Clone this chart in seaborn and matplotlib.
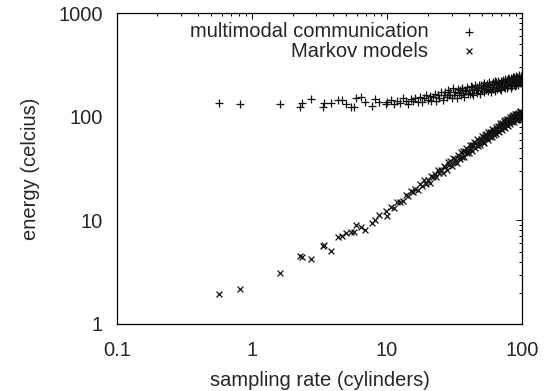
import matplotlib
matplotlib.use("Agg")
import numpy as np
import pandas as pd
import seaborn as sns
import matplotlib.pyplot as plt
from matplotlib.ticker import NullFormatter

# sampling rate values (shared by both series)
rate = [0.57, 0.82, 1.61, 2.26, 2.35, 2.72, 3.37, 3.44, 3.82, 4.33, 4.62,
        4.98, 5.42, 5.72, 5.86, 6.38, 6.9, 7.68, 8.1, 8.65, 9.8, 9.95,
        10.6, 11.3, 11.9, 12.4, 13.1, 13.8, 14.3, 14.9, 15.6, 16.2,
        16.9, 17.4, 18.1, 18.8, 19.3, 19.9, 20.6, 21.2, 21.8, 22.5,
        23.1, 23.6, 24.4, 25.0, 25.7, 26.3, 26.8, 27.5, 28.2, 28.9,
        29.4, 30.1, 30.8, 31.3, 32.0, 32.6, 33.3, 33.9, 34.5, 35.2,
        35.9, 36.4, 37.1, 37.8, 38.3, 39.0, 39.7, 40.2, 40.9, 41.6,
        42.1, 42.8, 43.5, 44.0, 44.7, 45.4, 45.9, 46.6, 47.3, 47.8,
        48.5, 49.2, 49.8, 50.4, 51.1, 51.7, 52.3, 53.0, 53.6, 54.2,
        54.9, 55.5, 56.1, 56.8, 57.4, 58.0, 58.7, 59.3, 59.9, 60.6,
        61.2, 61.8, 62.5, 63.1, 63.7, 64.4, 65.0, 65.6, 66.3, 66.9,
        67.5, 68.2, 68.8, 69.4, 70.1, 70.7, 71.3, 72.0, 72.6, 73.2,
        73.9, 74.5, 75.1, 75.8, 76.4, 77.0, 77.7, 78.3, 78.9, 79.6,
        80.2, 80.8, 81.5, 82.1, 82.7, 83.4, 84.0, 84.6, 85.3, 85.9,
        86.5, 87.2, 87.8, 88.4, 89.1, 89.7, 90.3, 91.0, 91.6, 92.2,
        92.9, 93.5, 94.1, 94.8, 95.4, 96.0, 96.7, 97.3, 97.9, 98.6,
        99.2, 99.8]

# multimodal communication energy
multimodal = [135, 132, 132, 124, 135, 148, 124, 135, 135, 145, 145,
              132, 124, 124, 152, 155, 138, 126, 148, 138, 132, 138,
              145, 133, 143, 137, 151, 142, 134, 148, 142, 152,
              140, 156, 138, 152, 161, 147, 159, 143, 155, 165,
              143, 162, 153, 173, 144, 164, 173, 156, 183, 164,
              175, 153, 189, 162, 175, 152, 185, 169, 183, 161,
              191, 170, 154, 183, 178, 193, 167, 182, 165, 199,
              171, 194, 164, 187, 205, 182, 171, 194, 180, 203,
              166, 192, 204, 181, 201, 173, 212, 187, 200, 180,
              207, 178, 196, 215, 185, 202, 173, 209, 195, 216,
              186, 207, 179, 224, 196, 217, 187, 204, 224, 195,
              213, 186, 208, 223, 182, 218, 200, 228, 195, 214,
              192, 232, 208, 218, 190, 226, 204, 239, 198, 218,
              231, 204, 221, 190, 238, 213, 230, 198, 220, 243,
              207, 240, 197, 230, 215, 249, 205, 227, 240, 215,
              239, 203, 232, 251, 212, 228, 219, 248, 223, 239,
              208, 245]

# Markov models energy
markov = [1.95, 2.18, 3.1, 4.5, 4.45, 4.2, 5.6, 5.8, 5.1, 6.9, 7.0,
          7.5, 7.7, 7.8, 9.1, 8.6, 8.0, 9.4, 10.2, 11.2, 12.3, 11.0,
          13.4, 13.2, 15.2, 14.9, 15.4, 17.7, 17.1, 19.4, 19.0, 20.3,
          19.5, 22.4, 21.7, 24.5, 22.5, 24.7, 23.2, 27.1, 26.0, 28.2,
          26.4, 30.7, 28.5, 30.7, 28.4, 33.5, 32.5, 31.0, 36.3, 34.0,
          37.1, 33.6, 40.0, 36.5, 39.2, 36.1, 42.4, 40.3, 38.9, 45.3,
          41.4, 46.3, 40.9, 46.8, 50.0, 44.5, 48.1, 44.8, 52.9, 48.8,
          53.4, 46.6, 53.0, 56.8, 50.2, 56.4, 53.2, 60.6, 52.5, 57.6,
          53.2, 61.5, 58.1, 65.4, 57.8, 63.3, 56.5, 67.3, 63.0, 68.1,
          63.0, 70.8, 60.2, 68.3, 71.7, 64.2, 71.8, 64.1, 76.6, 70.4,
          75.3, 67.2, 75.3, 70.8, 80.4, 68.3, 76.5, 81.7, 72.5, 79.4,
          71.3, 82.3, 87.0, 76.4, 82.8, 75.3, 87.3, 80.7, 90.5, 79.3,
          87.7, 78.0, 92.3, 85.3, 95.5, 82.9, 92.5, 82.3, 91.0, 96.2,
          86.8, 99.4, 85.2, 96.0, 91.0, 103.0, 88.4, 100.5, 95.3, 103.7,
          88.7, 102.0, 94.8, 107.2, 93.9, 102.5, 107.2, 93.6, 105.4, 99.8,
          109.7, 95.8, 105.5, 99.6, 113.6, 102.5, 110.3, 95.9, 106.9, 112.6,
          101.3, 110.2]

xticks = [0.1, 1, 10, 100]
xlabels = ["0.1", "1", "10", "100"]
yticks = [1, 10, 100, 1000]
ylabels = ["1", "10", "100", "1000"]

df = pd.DataFrame({"rate": rate, "multimodal": multimodal, "markov": markov})

sns.set_style("white")
plt.rcParams["font.family"] = ["Liberation Sans", "DejaVu Sans"]
plt.rcParams["font.size"] = 14.5

fig = plt.figure(figsize=(5.54, 3.91), dpi=100)
ax = fig.add_axes([0.2107, 0.1714, 0.7321, 0.7946])

sns.scatterplot(data=df, x="rate", y="multimodal", marker="+", color="#111111",
                s=26, linewidth=0.9, label="multimodal communication", ax=ax)
sns.scatterplot(data=df, x="rate", y="markov", marker="x", color="#111111",
                s=18, linewidth=0.9, label="Markov models", ax=ax)

ax.set_xscale("log")
ax.set_yscale("log")
ax.set_xlim(0.1, 100)
ax.set_ylim(1, 1000)
ax.set_xticks(xticks)
ax.set_xticklabels(xlabels)
ax.set_yticks(yticks)
ax.set_yticklabels(ylabels)
ax.xaxis.set_minor_formatter(NullFormatter())
ax.yaxis.set_minor_formatter(NullFormatter())
ax.tick_params(which="both", direction="in", top=True, right=True,
               color="black", width=0.7)
ax.tick_params(which="major", length=4, labelsize=14.5)
ax.tick_params(axis="x", which="major", pad=12)
ax.tick_params(axis="y", which="major", pad=10)
ax.tick_params(which="minor", length=2)
for s in ax.spines.values():
    s.set_color("black")
    s.set_linewidth(0.9)

ax.set_xlabel("sampling rate (cylinders)", fontsize=14.5, labelpad=8)
ax.set_ylabel("energy (celcius)", fontsize=14.5, labelpad=13)

ax.legend(loc="upper right", bbox_to_anchor=(0.94, 1.0), markerfirst=False,
          frameon=False, fontsize=14.5, labelspacing=0.02, handlelength=2.0,
          handletextpad=1.0, borderaxespad=0.05)

fig.savefig("out.png", dpi=100)
